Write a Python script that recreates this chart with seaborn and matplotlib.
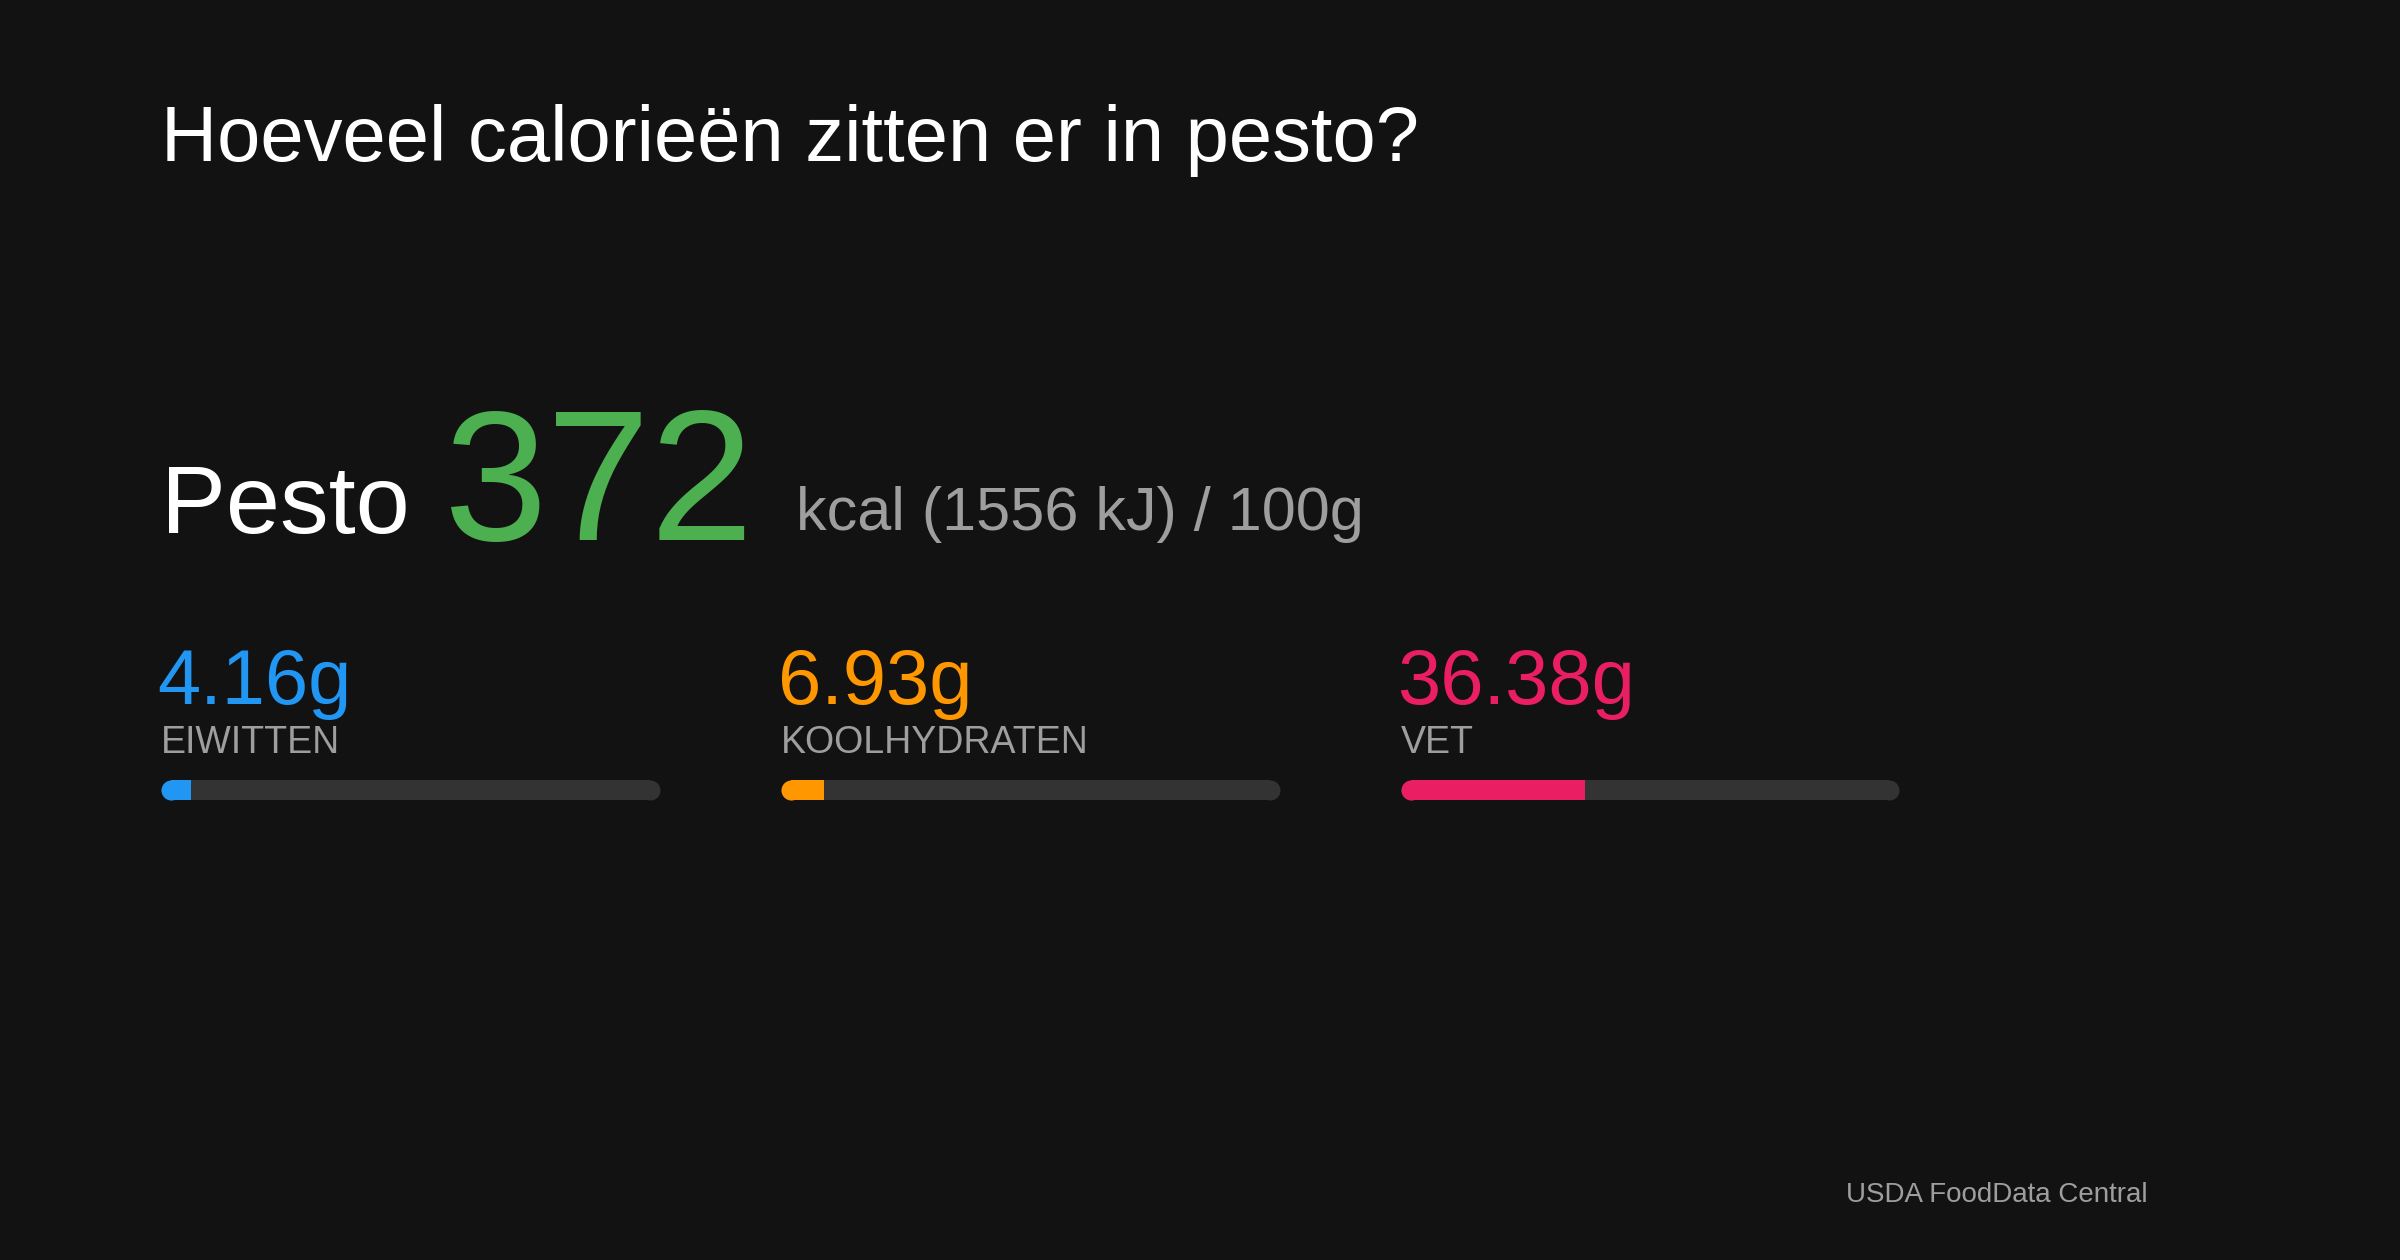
import numpy as np
import matplotlib
matplotlib.use("Agg")
import matplotlib.pyplot as plt
import seaborn as sns

# data
titel = "Hoeveel calorieën zitten er in pesto?"
product = "Pesto"
kcal = 372
kj = 1556
macro_namen = ["EIWITTEN", "KOOLHYDRATEN", "VET"]
macro_waarden = [4.16, 6.93, 36.38]
macro_kleuren = ["#2196f3", "#ff9800", "#e91e63"]
bron = "USDA FoodData Central"

sns.set_theme(style="dark")
plt.rcParams['font.family'] = ['Liberation Sans', 'DejaVu Sans']

BG = "#121212"
W, H = 1568, 823  # referentie-coordinaten

fig = plt.figure(figsize=(24, 12.6), dpi=100, facecolor=BG)

def fx(px):
    return px / W

def fy(py):
    return 1 - py / H

fig.text(fx(105), fy(105), titel, color="white", fontsize=56, va="baseline")
fig.text(fx(105), fy(348), product, color="white", fontsize=70, va="baseline")
fig.text(fx(290), fy(353), str(kcal), color="#4caf50", fontsize=134, va="baseline")
fig.text(fx(520), fy(346), f"kcal ({kj} kJ) / 100g", color="#9e9e9e", fontsize=44, va="baseline")

lw_px = 20
lw_pt = lw_px * 72 / 100
for i, (naam, waarde, kleur) in enumerate(zip(macro_namen, macro_waarden, macro_kleuren)):
    x0 = 105 + i * 405
    fig.text(fx(x0 - 2), fy(460), f"{waarde:.2f}g", color=kleur, fontsize=56, va="baseline")
    fig.text(fx(x0), fy(492), naam, color="#9e9e9e", fontsize=27, va="baseline")

    breedte = 326
    ax = fig.add_axes([fx(x0), fy(530), fx(breedte), 28 / H])
    ax.set_facecolor("none")
    px_breed = breedte * 2400 / W
    r = lw_px / 2 * 100 / (px_breed - lw_px)
    ax.set_xlim(-r, 100 + r)
    ax.set_ylim(-1, 1)
    ax.plot([0, 100], [0, 0], color="#333333", lw=lw_pt, solid_capstyle="butt")
    ax.plot([0, 100], [0, 0], "o", color="#333333", ms=lw_pt, mew=0)
    ax.plot([0, waarde], [0, 0], color=kleur, lw=lw_pt, solid_capstyle="butt")
    ax.plot([0], [0], "o", color=kleur, ms=lw_pt, mew=0)
    ax.axis("off")

fig.text(fx(1403), fy(785), bron, color="#9e9e9e", fontsize=20, ha="right", va="baseline")

fig.savefig("out.png", dpi=100, facecolor=BG)
